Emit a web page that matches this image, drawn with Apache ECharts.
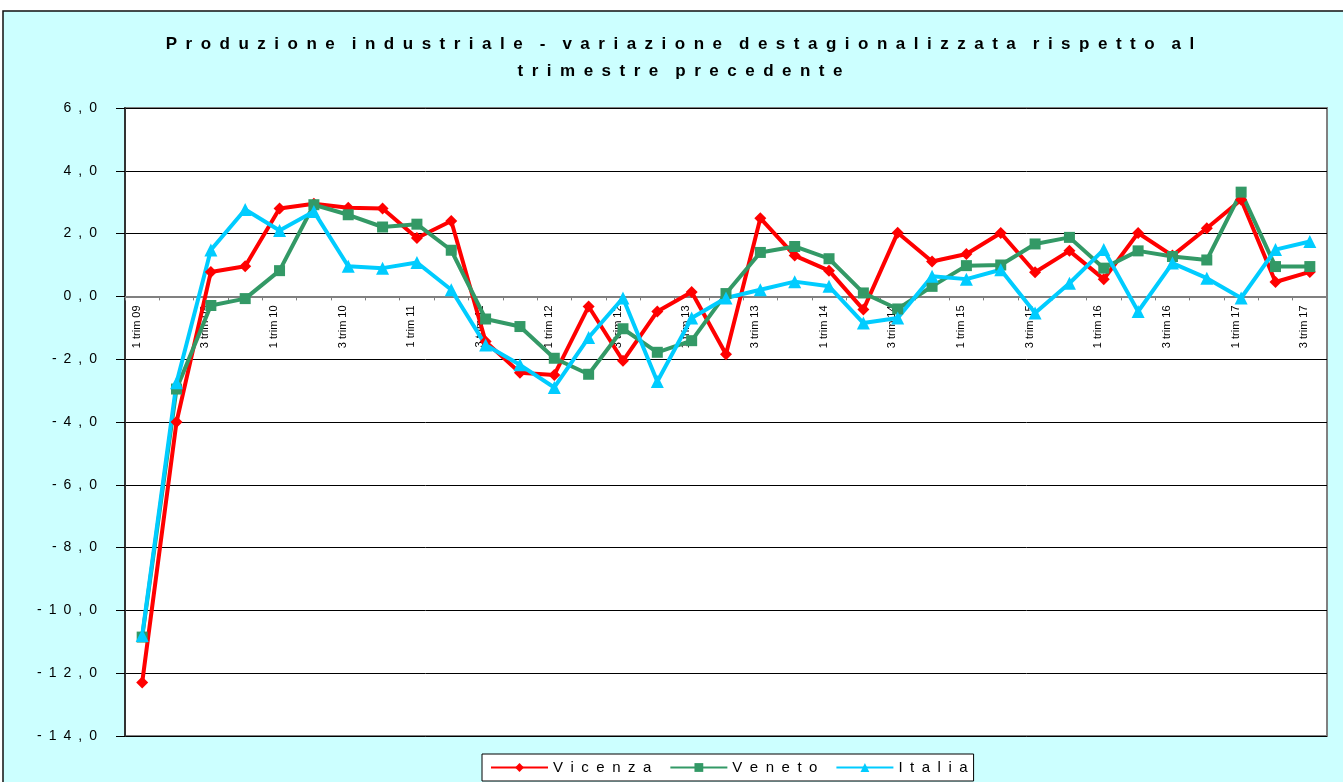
<!DOCTYPE html>
<html>
<head>
<meta charset="utf-8">
<script src="https://cdn.jsdelivr.net/npm/echarts@6/dist/echarts.min.js"></script>
<style>
  html, body { margin: 0; padding: 0; background: #fff; }
  #chart { width: 1343px; height: 782px; }
</style>
</head>
<body>
<div id="chart"></div>
<script>
// quarters 1 trim 09 .. 3 trim 17
var quarters = [];
for (var y = 9; y <= 17; y++) {
    for (var q = 1; q <= 4; q++) {
        if (y === 17 && q > 3) break;
        quarters.push(q + ' trim ' + (y < 10 ? '0' + y : y));
    }
}

var vicenza = [-12.3, -4.0, 0.78, 0.96, 2.8, 2.95, 2.82, 2.8, 1.86, 2.4, -1.44, -2.43, -2.5, -0.32, -2.05, -0.48, 0.14, -1.84, 2.49, 1.3, 0.82, -0.42, 2.03, 1.11, 1.35, 2.02, 0.77, 1.45, 0.55, 2.02, 1.3, 2.17, 3.08, 0.46, 0.78];
var veneto = [-10.85, -2.95, -0.29, -0.07, 0.82, 2.92, 2.6, 2.21, 2.3, 1.47, -0.72, -0.96, -1.97, -2.48, -1.03, -1.78, -1.41, 0.09, 1.4, 1.59, 1.2, 0.11, -0.4, 0.32, 0.98, 1.0, 1.67, 1.88, 0.9, 1.45, 1.27, 1.16, 3.32, 0.95, 0.95];
var italia = [-10.8, -2.75, 1.48, 2.77, 2.1, 2.7, 0.96, 0.9, 1.08, 0.21, -1.55, -2.18, -2.9, -1.31, -0.05, -2.71, -0.69, -0.05, 0.21, 0.47, 0.32, -0.85, -0.69, 0.64, 0.55, 0.85, -0.53, 0.42, 1.49, -0.48, 1.06, 0.58, -0.05, 1.49, 1.75];

var titleLines = ['Produzione industriale - variazione destagionalizzata rispetto al', 'trimestre precedente'];

var yMin = -14, yMax = 6;
var gridTop = 108, gridHeight = 628;

// spaced lettering like the original sheet
function spaced(s, sep) {
    return s.split('').join(sep || ' ');
}
function spacedWords(s) {
    return s.split(' ').map(function (w) { return spaced(w, '\u2002'); }).join('\u2002\u2002');
}

var chart = echarts.init(document.getElementById('chart'));

// category axis sits on the zero line
var zeroOffset = -(gridHeight * (0 - yMin) / (yMax - yMin));

var option = {
    backgroundColor: '#fff',
    animation: false,
    graphic: [{
        type: 'rect',
        z: -10,
        shape: { x: 3, y: 11, width: 1345, height: 780 },
        style: { fill: '#CCFFFF', stroke: '#111', lineWidth: 1.5 }
    }],
    title: {
        text: titleLines.map(spacedWords).join('\n'),
        left: 680,
        top: 31,
        textAlign: 'center',
        padding: 0,
        textStyle: {
            fontFamily: 'Liberation Sans, Arial, sans-serif',
            fontSize: 17,
            fontWeight: 'bold',
            color: '#000',
            lineHeight: 27
        }
    },
    legend: {
        left: 482,
        top: 754,
        padding: [6, 6, 6, 8],
        itemGap: 18,
        itemWidth: 57,
        itemHeight: 11,
        backgroundColor: '#fff',
        borderColor: '#000',
        borderWidth: 1,
        borderRadius: 0,
        textStyle: {
            fontFamily: 'Liberation Sans, Arial, sans-serif',
            fontSize: 15,
            color: '#000'
        },
        formatter: function (name) { return spaced(name, '\u2002'); },
        data: ['Vicenza', 'Veneto', 'Italia']
    },
    grid: {
        left: 125,
        top: gridTop,
        width: 1202,
        height: gridHeight,
        outerBoundsMode: 'none',
        containLabel: false,
        show: true,
        backgroundColor: '#fff',
        borderColor: '#808080',
        borderWidth: 2
    },
    xAxis: {
        type: 'category',
        data: quarters,
        boundaryGap: true,
        offset: zeroOffset,
        axisLine: { onZero: false, lineStyle: { color: '#808080', width: 2 } },
        axisTick: { show: true, interval: 0, length: 4, lineStyle: { color: '#808080' } },
        axisLabel: {
            interval: 1,
            rotate: 90,
            margin: 9,
            verticalAlign: 'bottom',
            fontFamily: 'Liberation Sans, Arial, sans-serif',
            fontSize: 11,
            color: '#000'
        },
        splitLine: { show: false }
    },
    yAxis: {
        type: 'value',
        min: yMin,
        max: yMax,
        interval: 2,
        axisLine: { show: true, lineStyle: { color: '#333', width: 2 } },
        axisTick: { show: true, length: 9, lineStyle: { color: '#000' } },
        axisLabel: {
            margin: 28,
            fontFamily: 'Liberation Sans, Arial, sans-serif',
            fontSize: 14,
            color: '#000',
            formatter: function (v) { return spaced(v.toFixed(1).replace('.', ','), '\u2002'); }
        },
        splitLine: { show: true, lineStyle: { color: '#000', width: 1 } }
    },
    series: [{
        name: 'Vicenza',
        type: 'line',
        data: vicenza,
        symbol: 'diamond',
        symbolSize: 12,
        lineStyle: { color: '#FF0000', width: 4 },
        itemStyle: { color: '#FF0000' }
    }, {
        name: 'Veneto',
        type: 'line',
        data: veneto,
        symbol: 'rect',
        symbolSize: 11,
        lineStyle: { color: '#339966', width: 4 },
        itemStyle: { color: '#339966' }
    }, {
        name: 'Italia',
        type: 'line',
        data: italia,
        symbol: 'triangle',
        symbolSize: 13,
        lineStyle: { color: '#00CCFF', width: 4 },
        itemStyle: { color: '#00CCFF' }
    }]
};

chart.setOption(option);
</script>
</body>
</html>
